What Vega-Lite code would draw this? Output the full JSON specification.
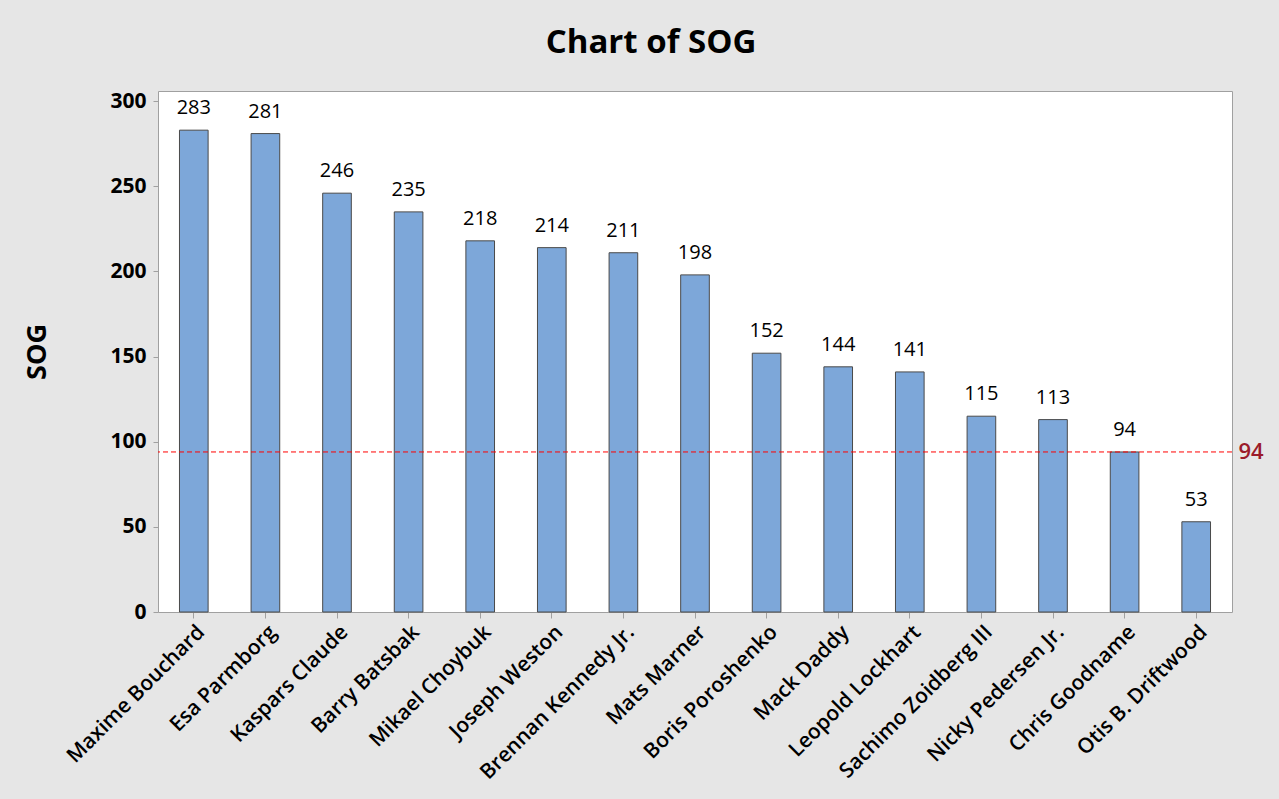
{
  "$schema": "https://vega.github.io/schema/vega-lite/v6.json",
  "width": 1074,
  "height": 521,
  "autosize": {"type": "none"},
  "padding": {"left": 158, "top": 91, "right": 47, "bottom": 187},
  "background": "#e6e6e6",
  "title": {"text": "Chart of SOG", "fontSize": 33, "font": "Open Sans", "fontWeight": "bold", "color": "#000000", "offset": 30, "dx": -44, "anchor": "middle"},
  "config": {
    "font": "Open Sans",
    "view": {"fill": "white", "stroke": "#a0a0a0", "strokeWidth": 1},
    "axis": {"grid": false, "domainColor": "#a0a0a0", "tickColor": "#a0a0a0", "labelColor": "#000000", "titleColor": "#000000"}
  },
  "data": {"values": [
    {"player": "Maxime Bouchard", "sog": 283},
    {"player": "Esa Parmborg", "sog": 281},
    {"player": "Kaspars Claude", "sog": 246},
    {"player": "Barry Batsbak", "sog": 235},
    {"player": "Mikael Choybuk", "sog": 218},
    {"player": "Joseph Weston", "sog": 214},
    {"player": "Brennan Kennedy Jr.", "sog": 211},
    {"player": "Mats Marner", "sog": 198},
    {"player": "Boris Poroshenko", "sog": 152},
    {"player": "Mack Daddy", "sog": 144},
    {"player": "Leopold Lockhart", "sog": 141},
    {"player": "Sachimo Zoidberg III", "sog": 115},
    {"player": "Nicky Pedersen Jr.", "sog": 113},
    {"player": "Chris Goodname", "sog": 94},
    {"player": "Otis B. Driftwood", "sog": 53}
  ]},
  "encoding": {
    "x": {"field": "player", "type": "nominal", "sort": null,
      "scale": {"paddingInner": 0.6, "paddingOuter": 0.3},
      "axis": {"title": null, "labelAngle": -45, "labelFontSize": 21, "labelFontWeight": 600, "labelLimit": 0, "tickSize": 6, "labelPadding": 3, "domain": false}},
    "y": {"field": "sog", "type": "quantitative",
      "scale": {"domain": [0, 306], "nice": false, "zero": true}}
  },
  "layer": [
    {
      "encoding": {
        "y": {"field": "sog", "type": "quantitative",
          "axis": {"title": "SOG", "titleFontSize": 27, "titleFontWeight": "bold", "titlePadding": 58, "values": [0, 50, 100, 150, 200, 250, 300], "labelFontSize": 21, "labelFontWeight": "bold", "tickSize": 5, "labelPadding": 7, "domain": false}}
      },
      "layer": [
        {"mark": {"type": "bar", "fill": "#7da7d9", "stroke": "#4a4a4a", "strokeWidth": 1}},
        {"mark": {"type": "text", "baseline": "bottom", "dy": -12, "fontSize": 20, "color": "#000000"},
         "encoding": {"text": {"field": "sog", "type": "quantitative"}}}
      ]
    },
    {"data": {"values": [{"ref": 94}]},
     "mark": {"type": "rule", "color": "#ff0000", "strokeDash": [5, 3], "strokeWidth": 1},
     "encoding": {
       "x": null,
       "y": {"field": "ref", "type": "quantitative",
         "axis": {"orient": "right", "title": null, "values": [94], "ticks": false, "domain": false, "labelFontSize": 22, "labelFontWeight": 600, "labelColor": "#9b1b2a", "labelPadding": 6}}
     }}
  ],
  "resolve": {"axis": {"y": "independent"}}
}
